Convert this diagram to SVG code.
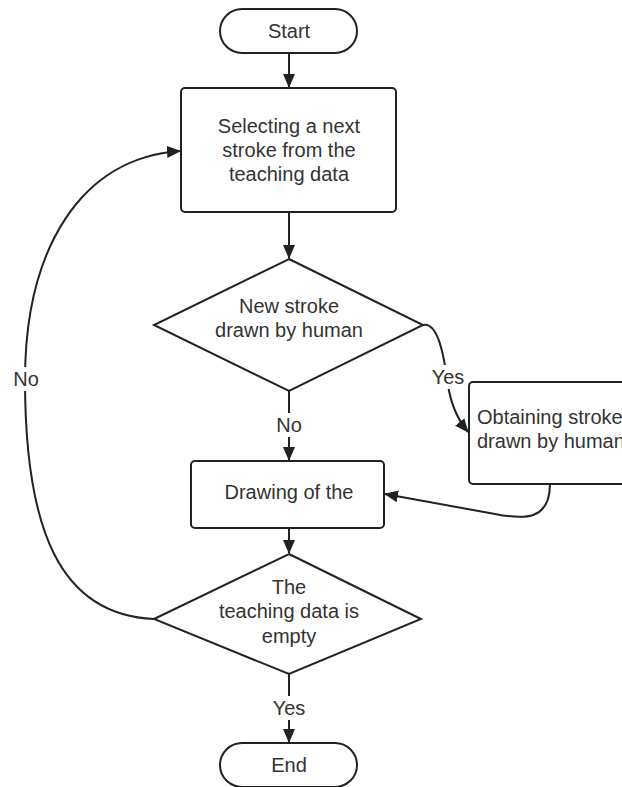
<svg xmlns="http://www.w3.org/2000/svg" width="622" height="787" viewBox="0 0 622 787">
<defs>
<style>
.s{fill:#fff;stroke:#222;stroke-width:2}
.t{font-family:"Liberation Sans",Arial,sans-serif;font-size:20px;fill:#333;text-anchor:middle}
.c{fill:none;stroke:#222;stroke-width:2}
.lb{fill:#fff}
</style>
<marker id="a" viewBox="0 0 14 14" refX="13" refY="7" markerWidth="14" markerHeight="14" markerUnits="userSpaceOnUse" orient="auto">
<path d="M0,1 L14,7 L0,13 Z" fill="#222"/>
</marker>
</defs>
<rect width="622" height="787" fill="#fff"/>
<g id="connectors">
<path class="c" d="M289,53 L289,87" marker-end="url(#a)"/>
<path class="c" d="M289,212 L289,258" marker-end="url(#a)"/>
<path class="c" d="M289,391 L289,460" marker-end="url(#a)"/>
<path class="c" d="M289,528 L289,553" marker-end="url(#a)"/>
<path class="c" d="M289,674 L289,742" marker-end="url(#a)"/>
<path class="c" d="M423,325 C438,322 444,355 448,385 C451,405 458,420 468,432" marker-end="url(#a)"/>
<path class="c" d="M550,484 C550,520 525,520 495,514 L385,494" marker-end="url(#a)"/>
<path class="c" d="M154,619 C60,615 25,530 25,380 C25,250 80,158 180,151" marker-end="url(#a)"/>
<rect class="lb" x="428" y="365" width="40" height="24"/>
<text class="t" x="448" y="384">Yes</text>
<rect class="lb" x="271" y="413" width="36" height="24"/>
<text class="t" x="289" y="432">No</text>
<rect class="lb" x="267" y="696" width="44" height="24"/>
<text class="t" x="289" y="715">Yes</text>
<rect class="lb" x="9" y="367" width="34" height="24"/>
<text class="t" x="26" y="386">No</text>
</g>
<g id="start">
<rect class="s" x="220" y="9" width="137" height="44" rx="22"/>
<text class="t" x="289" y="38">Start</text>
</g>
<g id="select">
<rect class="s" x="181" y="88" width="215" height="124" rx="4"/>
<text class="t" x="289" y="133">Selecting a next</text>
<text class="t" x="289" y="157">stroke from the</text>
<text class="t" x="289" y="181">teaching data</text>
</g>
<g id="decision1">
<path class="s" d="M289,259 L423,325 L289,391 L154,325 Z"/>
<text class="t" x="289" y="313">New stroke</text>
<text class="t" x="289" y="337">drawn by human</text>
</g>
<g id="obtain">
<rect class="s" x="469" y="382" width="190" height="102" rx="4"/>
<text class="t" x="477" y="424" style="text-anchor:start">Obtaining strokes</text>
<text class="t" x="477" y="448" style="text-anchor:start">drawn by human</text>
</g>
<g id="drawing">
<rect class="s" x="191" y="461" width="193" height="67" rx="4"/>
<text class="t" x="289" y="499">Drawing of the</text>
</g>
<g id="decision2">
<path class="s" d="M289,554 L421,619 L289,674 L154,619 Z"/>
<text class="t" x="289" y="594">The</text>
<text class="t" x="289" y="618">teaching data is</text>
<text class="t" x="289" y="643">empty</text>
</g>
<g id="end">
<rect class="s" x="220" y="743" width="137" height="44" rx="22"/>
<text class="t" x="289" y="772">End</text>
</g>
</svg>
